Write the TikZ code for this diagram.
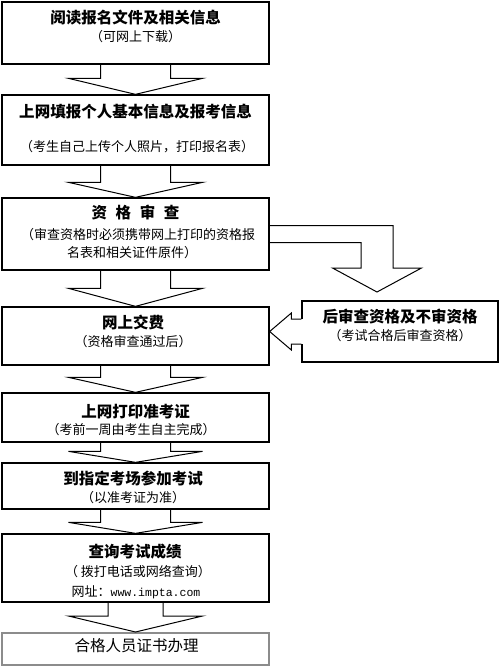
\documentclass[tikz,border=0pt]{standalone}
\usepackage{fontspec}
\setmainfont{Noto Sans CJK SC}
\setmonofont{Liberation Mono}
\usetikzlibrary{calc}

\begin{document}
\begin{tikzpicture}[
    x=1pt, y=-1pt,
    box/.style={draw, line width=1.3pt, minimum width=267pt, inner sep=0pt},
    grey box/.style={draw=black!45, line width=2pt, minimum width=267pt,
        inner sep=0pt},
    title/.style={inner sep=0pt, font=\bfseries\fontsize{15.5}{18}\selectfont},
    note/.style={inner sep=0pt, font=\fontsize{13}{15}\selectfont},
    blk/.style={draw, line width=1pt, line join=miter},
]
\useasboundingbox (0,0) rectangle (500,666);

% ---- main column of boxes ----
\node[box, minimum height=62pt] (read)  at (135.5,33)    {};
\node[box, minimum height=70pt] (fill)  at (135.5,130)   {};
\node[box, minimum height=72pt] (check) at (135.5,234)   {};
\node[box, minimum height=58pt] (pay)   at (135.5,336)   {};
\node[box, minimum height=49pt] (print) at (135.5,417.5) {};
\node[box, minimum height=46pt] (exam)  at (135.5,486)   {};
\node[box, minimum height=68pt] (score) at (135.5,568)   {};
\node[grey box, minimum height=32pt] (cert) at (135.5,649) {};

% side box
\node[box, minimum width=196pt, minimum height=61pt] (rbox) at (400,331.5) {};

% ---- texts ----
\node[title] (readT) at (135.5,18) {阅读报名文件及相关信息};
\node[note]  (readN) at (135.5,37) {（可网上下载）};

\node[title] (fillT) at (135.5,112) {上网填报个人基本信息及报考信息};
\node[note]  (fillN) at (137,147) {（考生自己上传个人照片，打印报名表）};

\node[title] (checkT) at (135.5,213)
    {资\hspace{0.55em}格\hspace{0.55em}审\hspace{0.55em}查};
\node[note]  (checkN) at (138,235) {（审查资格时必须携带网上打印的资格报};
\node[note]  (checkM) at (132,253) {名表和相关证件原件）};

\node[title] (payT) at (133,323) {网上交费};
\node[note]  (payN) at (133,342) {（资格审查通过后）};

\node[title] (rboxT) at (400,317) {后审查资格及不审资格};
\node[note]  (rboxN) at (400,336) {（考试合格后审查资格）};

\node[title] (printT) at (135.5,412) {上网打印准考证};
\node[note]  (printN) at (131,430) {（考前一周由考生自主完成）};

\node[title] (examT) at (133,478) {到指定考场参加考试};
\node[note]  (examN) at (133,498) {（以准考证为准）};

\node[title] (scoreT) at (135,552) {查询考试成绩};
\node[note]  (scoreN) at (138,572) {（ 拨打电话或网络查询）};
\node[note]  (scoreU) at (136,592)
    {网址：{\ttfamily\fontsize{11.5}{14}\selectfont www.impta.com}};

\node[inner sep=0pt, font=\fontsize{15.5}{18}\selectfont] (certT)
    at (136.5,646) {合格人员证书办理};

% ---- block arrows down the column ----
\foreach \a/\b/\s/\h in {read/fill/35/16, fill/check/35/15,
    check/pay/35/18, pay/print/35/15, print/exam/35/11,
    exam/score/35/11, score/cert/27.5/16} {
    \draw[blk] ($(\a.south)+(-\s,0)$) -- ($(\b.north)+(-\s,-\h)$)
        -- ($(\b.north)+(-67,-\h)$) -- (\b.north)
        -- ($(\b.north)+(67,-\h)$) -- ($(\b.north)+(\s,-\h)$)
        -- ($(\a.south)+(\s,0)$);
}

% ---- branch to the side box ----
\coordinate (qtip) at (377,292);
\draw[blk] ($(check.east)+(0,-8.5)$) -- ($(check.east -| qtip)+(16,-8.5)$)
    -- ($(qtip)+(16,-24)$) -- ($(qtip)+(44.5,-24)$) -- (qtip)
    -- ($(qtip)+(-44.5,-24)$) -- ($(qtip)+(-16,-24)$)
    -- ($(check.east -| qtip)+(-16,8.5)$) -- ($(check.east)+(0,8.5)$);

% ---- side box back to payment ----
\path[fill=white] ($(rbox.west)+(1.5,-12.5)$) rectangle ($(rbox.west)+(-1.5,12.5)$);
\draw[blk] ($(rbox.west)+(0,-12.5)$) -- ++(-10,0) -- ++(0,-6)
    -- (pay.east |- rbox.west) -- ($(rbox.west)+(-10,18.5)$) -- ++(0,-6)
    -- ($(rbox.west)+(0,12.5)$);

\end{tikzpicture}
\end{document}
